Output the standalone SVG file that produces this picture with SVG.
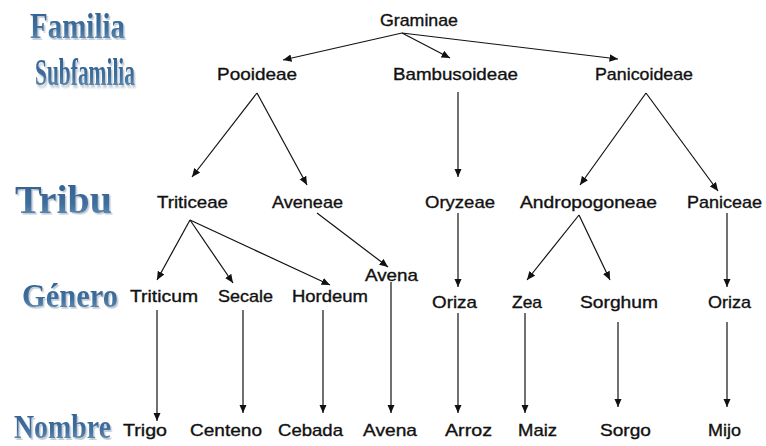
<svg xmlns="http://www.w3.org/2000/svg" width="766" height="446" viewBox="0 0 766 446">
<defs>
<style>
.lvl{font-family:"Liberation Serif","DejaVu Serif",serif;font-weight:bold;fill:url(#g);filter:url(#sh)}
.n{font-family:"Liberation Sans",Arial,sans-serif;font-size:17px;fill:#111;stroke:#111;stroke-width:0.35}
.c line{stroke:#111;stroke-width:1.2;marker-end:url(#ah)}
</style>
<linearGradient id="g" x1="0" y1="0" x2="0" y2="1">
<stop offset="0" stop-color="#2f5f8f"/>
<stop offset="0.6" stop-color="#3f6f9d"/>
<stop offset="1" stop-color="#7a9cbc"/>
</linearGradient>
<filter id="sh" x="-5%" y="-5%" width="115%" height="120%">
<feDropShadow dx="1.5" dy="1.5" stdDeviation="0.6" flood-color="#b8c4d0" flood-opacity="0.9"/>
</filter>
<marker id="ah" markerWidth="9" markerHeight="8" refX="8.5" refY="3.75" orient="auto" markerUnits="userSpaceOnUse">
<path d="M0,0 L8.5,3.75 L0,7.5 z" fill="#111"/>
</marker>
</defs>
<rect width="766" height="446" fill="#fff"/>
<g id="levels">
<text class="lvl" transform="translate(30,38) scale(1,1.24)" font-size="29" textLength="95" lengthAdjust="spacingAndGlyphs">Familia</text>
<text class="lvl" transform="translate(35,85) scale(1,1.78)" font-size="21.4" textLength="100" lengthAdjust="spacingAndGlyphs">Subfamilia</text>
<text class="lvl" transform="translate(15,213) scale(1,1.03)" font-size="38.8" textLength="97" lengthAdjust="spacingAndGlyphs">Tribu</text>
<text class="lvl" transform="translate(22,307) scale(1,1.12)" font-size="30.3" textLength="96" lengthAdjust="spacingAndGlyphs">Género</text>
<text class="lvl" transform="translate(14,437.5) scale(1,1.25)" font-size="27.7" textLength="97" lengthAdjust="spacingAndGlyphs">Nombre</text>
</g>
<g id="n-graminae"><text class="n" x="380" y="26" textLength="78" lengthAdjust="spacingAndGlyphs">Graminae</text></g>
<g id="n-pooideae"><text class="n" x="217" y="80" textLength="80" lengthAdjust="spacingAndGlyphs">Pooideae</text></g>
<g id="n-bambusoideae"><text class="n" x="393" y="80" textLength="125" lengthAdjust="spacingAndGlyphs">Bambusoideae</text></g>
<g id="n-panicoideae"><text class="n" x="595" y="80" textLength="98" lengthAdjust="spacingAndGlyphs">Panicoideae</text></g>
<g id="n-triticeae"><text class="n" x="157" y="208" textLength="71" lengthAdjust="spacingAndGlyphs">Triticeae</text></g>
<g id="n-aveneae"><text class="n" x="272" y="208" textLength="71" lengthAdjust="spacingAndGlyphs">Aveneae</text></g>
<g id="n-oryzeae"><text class="n" x="425" y="208" textLength="70" lengthAdjust="spacingAndGlyphs">Oryzeae</text></g>
<g id="n-andropogoneae"><text class="n" x="520" y="208" textLength="137" lengthAdjust="spacingAndGlyphs">Andropogoneae</text></g>
<g id="n-paniceae"><text class="n" x="687" y="208" textLength="75" lengthAdjust="spacingAndGlyphs">Paniceae</text></g>
<g id="n-triticum"><text class="n" x="130" y="302" textLength="68" lengthAdjust="spacingAndGlyphs">Triticum</text></g>
<g id="n-secale"><text class="n" x="218" y="302" textLength="55" lengthAdjust="spacingAndGlyphs">Secale</text></g>
<g id="n-hordeum"><text class="n" x="292" y="302" textLength="76" lengthAdjust="spacingAndGlyphs">Hordeum</text></g>
<g id="n-avena-g"><text class="n" x="365" y="281" textLength="53" lengthAdjust="spacingAndGlyphs">Avena</text></g>
<g id="n-oriza1"><text class="n" x="432" y="308" textLength="45" lengthAdjust="spacingAndGlyphs">Oriza</text></g>
<g id="n-zea"><text class="n" x="512" y="308" textLength="30" lengthAdjust="spacingAndGlyphs">Zea</text></g>
<g id="n-sorghum"><text class="n" x="580" y="308" textLength="78" lengthAdjust="spacingAndGlyphs">Sorghum</text></g>
<g id="n-oriza2"><text class="n" x="708" y="308" textLength="43" lengthAdjust="spacingAndGlyphs">Oriza</text></g>
<g id="n-trigo"><text class="n" x="123" y="436" textLength="44" lengthAdjust="spacingAndGlyphs">Trigo</text></g>
<g id="n-centeno"><text class="n" x="190" y="436" textLength="72" lengthAdjust="spacingAndGlyphs">Centeno</text></g>
<g id="n-cebada"><text class="n" x="278" y="436" textLength="65" lengthAdjust="spacingAndGlyphs">Cebada</text></g>
<g id="n-avena"><text class="n" x="363" y="436" textLength="54" lengthAdjust="spacingAndGlyphs">Avena</text></g>
<g id="n-arroz"><text class="n" x="445" y="436" textLength="47" lengthAdjust="spacingAndGlyphs">Arroz</text></g>
<g id="n-maiz"><text class="n" x="518" y="436" textLength="39" lengthAdjust="spacingAndGlyphs">Maiz</text></g>
<g id="n-sorgo"><text class="n" x="600" y="436" textLength="51" lengthAdjust="spacingAndGlyphs">Sorgo</text></g>
<g id="n-mijo"><text class="n" x="708" y="436" textLength="33" lengthAdjust="spacingAndGlyphs">Mijo</text></g>
<g id="connectors" class="c">
<line x1="402" y1="33" x2="283" y2="60"/>
<line x1="402" y1="33" x2="450" y2="58"/>
<line x1="402" y1="33" x2="618" y2="59"/>
<line x1="257" y1="93" x2="192" y2="177"/>
<line x1="257" y1="93" x2="307" y2="185"/>
<line x1="458" y1="92" x2="458" y2="177"/>
<line x1="646" y1="93" x2="580" y2="185"/>
<line x1="646" y1="93" x2="718" y2="191"/>
<line x1="190" y1="220" x2="157" y2="280"/>
<line x1="190" y1="220" x2="233" y2="283"/>
<line x1="190" y1="220" x2="330" y2="285"/>
<line x1="317" y1="213" x2="388" y2="267"/>
<line x1="458" y1="213" x2="458" y2="287"/>
<line x1="579" y1="215" x2="527" y2="280"/>
<line x1="579" y1="215" x2="610" y2="280"/>
<line x1="727" y1="213" x2="727" y2="287"/>
<line x1="157" y1="310" x2="157" y2="421"/>
<line x1="243" y1="310" x2="243" y2="413"/>
<line x1="323" y1="310" x2="323" y2="413"/>
<line x1="391" y1="282" x2="391" y2="413"/>
<line x1="458" y1="313" x2="458" y2="413"/>
<line x1="525" y1="313" x2="525" y2="413"/>
<line x1="618" y1="322" x2="618" y2="407"/>
<line x1="727" y1="322" x2="727" y2="407"/>
</g>
</svg>
